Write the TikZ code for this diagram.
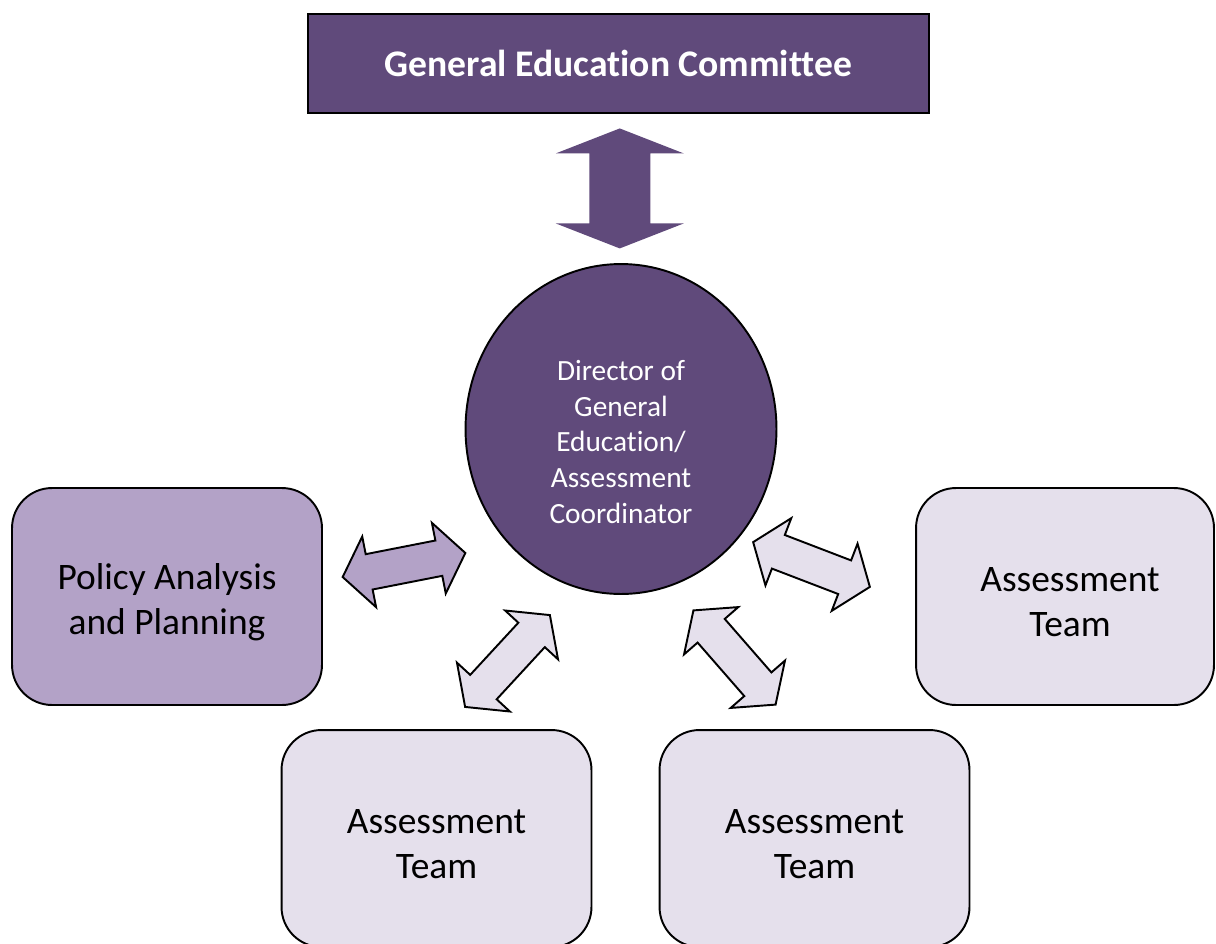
\documentclass[tikz,border=0pt]{standalone}
\usepackage{fontspec}
\setmainfont[Ligatures=NoCommon]{Carlito}
\usetikzlibrary{shapes.geometric,calc}
\definecolor{gedark}{HTML}{604A7B}
\definecolor{gemid}{HTML}{B3A2C7}
\definecolor{gelight}{HTML}{E5E0EC}
\tikzset{
	unitbox/.style={draw=black, line width=1.1pt, rounded corners=0.8cm,
		minimum width=6.2cm, minimum height=4.34cm, inner sep=0pt},
	unittext/.style={align=center, inner sep=0pt, yshift=-0.12cm,
		font=\fontsize{21.3}{25.5}\selectfont},
	twoway/.style={draw=black, line width=1.1pt, line join=miter},
}
\begin{document}
\begin{tikzpicture}[x=0.02cm, y=-0.02cm]
	\useasboundingbox (0,0) rectangle (1216,943);
	% committee and director
	\node [draw=black, line width=0.9pt, fill=gedark, text=white,
		minimum width=12.42cm, minimum height=1.98cm, inner sep=0pt,
		font=\fontsize{21.4}{25}\selectfont\bfseries] (gec) at (618.5,63.5)
		{General Education Committee};
	\node [ellipse, draw=black, line width=1.1pt, fill=gedark,
		minimum width=6.22cm, minimum height=6.6cm, inner sep=0pt] (dir) at (621,429) {};
	\node [text=white, align=center, inner sep=0pt,
		font=\fontsize{16.7}{20.4}\selectfont] (dirtext) at (621,442)
		{Director of\\General\\Education/\\Assessment\\Coordinator};
	% the four units
	\node [unitbox, fill=gemid,
		label={[unittext]center:Policy Analysis\\and Planning}] (policy) at (167,596.5) {};
	\node [unitbox, fill=gelight, minimum width=5.96cm,
		label={[unittext, xshift=0.1cm]center:Assessment\\Team}] (teamR) at (1065,596.5) {};
	\node [unitbox, fill=gelight,
		label={[unittext]center:Assessment\\Team}] (teamBL) at (436.5,838.5) {};
	\node [unitbox, fill=gelight,
		label={[unittext]center:Assessment\\Team}] (teamBR) at (814.5,838.5) {};
	% big arrow between committee and director
	\coordinate (mid) at ($(gec.south)!0.5!(dir.north)$);
	\fill [gedark] (mid) ++(0,-60) -- ++(64,25) -- ++(-33.5,0) -- ++(0,70)
		-- ++(33.5,0) -- ++(-64,25) -- ++(-64,-25) -- ++(33.5,0)
		-- ++(0,-70) -- ++(-33.5,0) -- cycle;
	% small two-way arrows
	\foreach \p/\a/\c in {{404,565}/11.1/gemid, {507.5,661}/47.3/gelight,
			{734.5,657.5}/-48.9/gelight, {811.5,564.5}/-21/gelight} {
		\begin{scope}[shift={(\p)}, rotate=\a]
			\filldraw [twoway, fill=\c] (-62.5,0) -- (-35.5,-36) -- (-35.5,-18)
				-- (35.5,-18) -- (35.5,-36) -- (62.5,0) -- (35.5,36) -- (35.5,18)
				-- (-35.5,18) -- (-35.5,36) -- cycle;
		\end{scope}
	}
\end{tikzpicture}
\end{document}
